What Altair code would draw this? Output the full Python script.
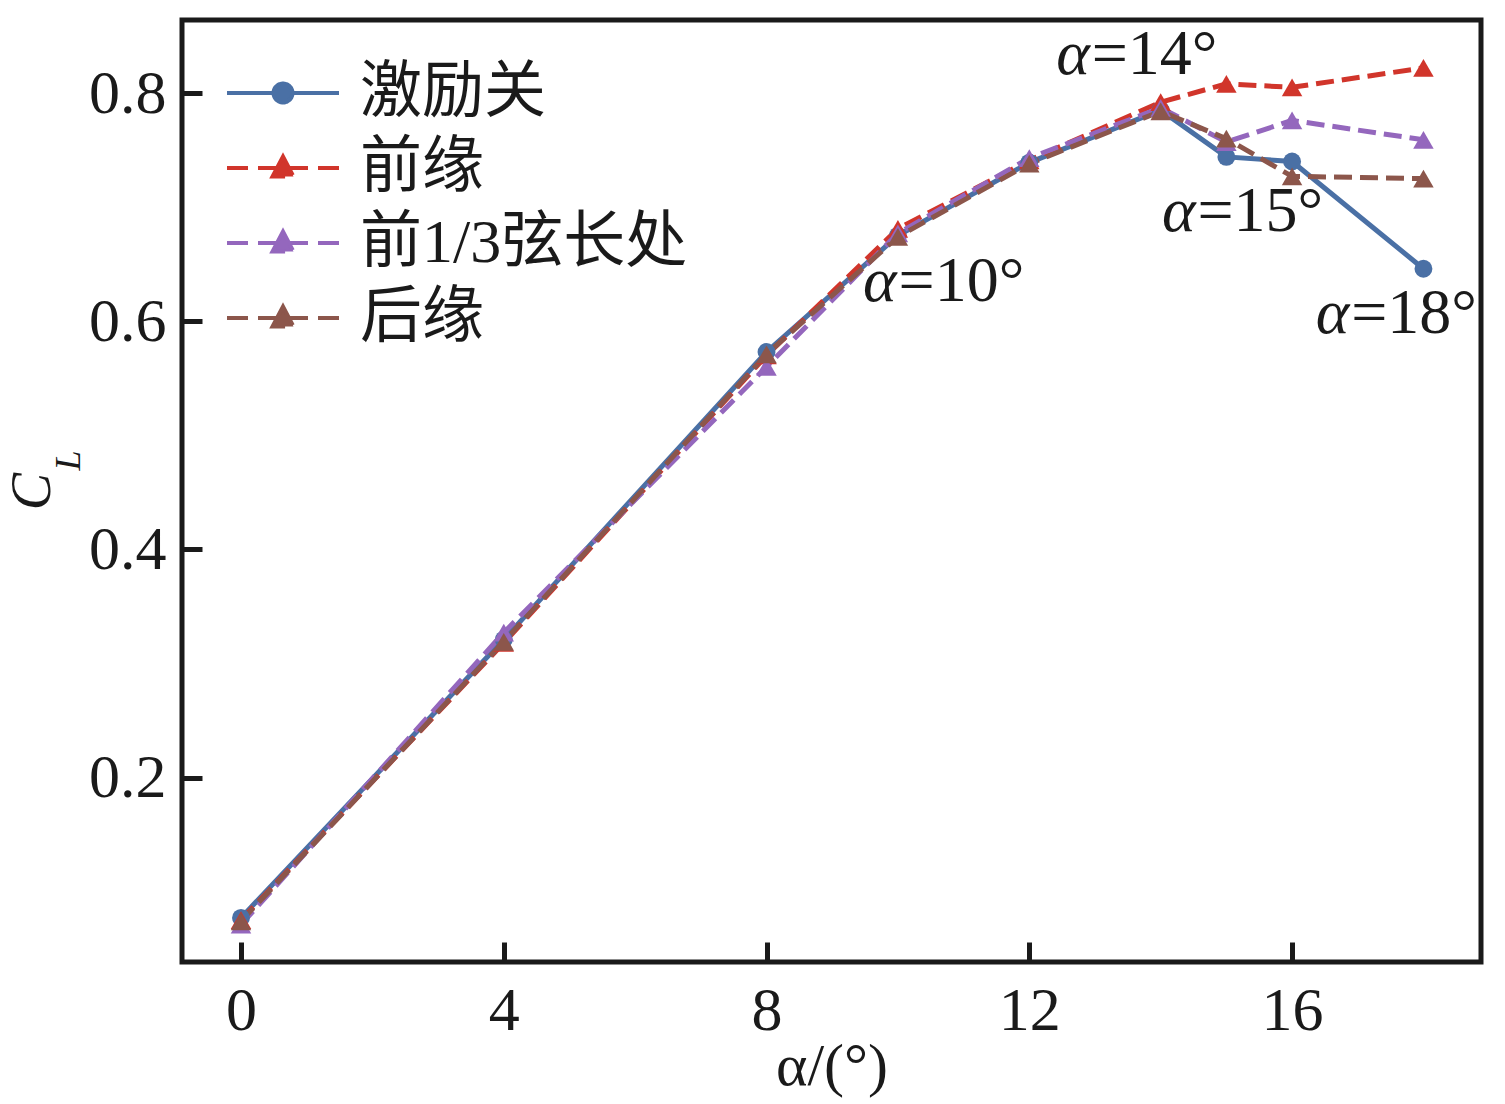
import altair as alt
import pandas as pd

# angle of attack (deg) and lift coefficient per actuator position
alpha = [0, 4, 8, 10, 12, 14, 15, 16, 18]
cl_off = [0.077, 0.321, 0.573, 0.675, 0.739, 0.785, 0.744, 0.740, 0.646]
cl_le = [0.075, 0.318, 0.570, 0.681, 0.741, 0.792, 0.808, 0.805, 0.822]
cl_third = [0.071, 0.327, 0.560, 0.677, 0.743, 0.787, 0.757, 0.776, 0.759]
cl_te = [0.074, 0.319, 0.571, 0.674, 0.738, 0.784, 0.760, 0.727, 0.725]

series = ['激励关', '前缘', '前1/3弦长处', '后缘']
colors = ['#4a70a5', '#d1352b', '#9467bd', '#8c564b']
legend_dashes = [[1, 0], [21, 10, 50, 10, 21], [21, 10, 50, 10, 21], [21, 10, 50, 10, 21]]
tri = 'M-5.6,0H5.6M0,-1.15L1.05,0.85L-1.05,0.85Z'
legend_shapes = ['M-5.6,0H5.6M-0.95,0A0.95,0.95 0 1,0 0.95,0A0.95,0.95 0 1,0 -0.95,0Z', tri, tri, tri]

x_ticks = [0, 4, 8, 12, 16]
y_ticks = [0.2, 0.4, 0.6, 0.8]

# annotations: "α" right of anchor, rest left of anchor
ann_x = [12.92, 14.53, 9.98, 16.87]
ann_y = [0.833, 0.696, 0.634, 0.606]
ann_rest = ['=14°', '=15°', '=10°', '=18°']

sub_x = [-2.62]
sub_y = [0.478]

FONT = 'Liberation Serif'
CJK = 'Liberation Serif, Noto Sans CJK SC'
INK = '#1a1a1a'

rows = []
for name, col, vals in zip(series, colors, [cl_off, cl_le, cl_third, cl_te]):
    for a, v in zip(alpha, vals):
        rows.append({'series': name, 'hex': col, 'alpha': a, 'cl': v})
df = pd.DataFrame(rows)

ann = pd.DataFrame({'x': ann_x, 'y': ann_y, 'rest': ann_rest, 'a': ['α'] * 4})
sub = pd.DataFrame({'x': sub_x, 'y': sub_y, 't': ['L']})

xs = alt.Scale(domain=[-0.898, 18.876], nice=False, zero=False)
ys = alt.Scale(domain=[0.0383, 0.864], nice=False, zero=False)

main_x = alt.Axis(values=x_ticks, orient='bottom', domain=False, ticks=False, grid=False,
                  labelFont=FONT, labelFontSize=62, labelColor=INK, labelPadding=18,
                  title='α/(°)', titleFont=FONT, titleFontSize=60, titleFontWeight='normal',
                  titleColor=INK, titlePadding=-4)
main_y = alt.Axis(values=y_ticks, orient='left', domain=False, ticks=False, grid=False,
                  format='.1f', labelFont=FONT, labelFontSize=62, labelColor=INK,
                  labelPadding=16, title='C', titleFont=FONT, titleFontSize=56,
                  titleFontStyle='italic', titleFontWeight='normal', titleColor=INK,
                  titlePadding=27)
# inward ticks: a second axis shifted into the plot
tick_x = alt.Axis(values=x_ticks, orient='bottom', offset=-20, tickSize=20, tickWidth=5,
                  tickColor=INK, labels=False, domain=False, grid=False, title=None)
tick_y = alt.Axis(values=y_ticks, orient='left', offset=-20, tickSize=20, tickWidth=5,
                  tickColor=INK, labels=False, domain=False, grid=False, title=None)

# colours straight from the data column, so these layers make no legend
color = alt.Color('hex:N', scale=None)
is_off = alt.datum.series == series[0]

solid = alt.Chart(df).transform_filter(is_off).mark_line(strokeWidth=5).encode(
    x=alt.X('alpha:Q', scale=xs, axis=main_x),
    y=alt.Y('cl:Q', scale=ys, axis=main_y),
    color=color,
)
dashed = alt.Chart(df).transform_filter(~is_off).mark_line(strokeWidth=5, strokeDash=[18, 8]).encode(
    x=alt.X('alpha:Q', scale=xs, axis=None),
    y=alt.Y('cl:Q', scale=ys, axis=None),
    color=color,
    detail='series:N',
)
circles = alt.Chart(df).transform_filter(is_off).mark_point(
    filled=True, opacity=1, shape='circle', size=320).encode(
    x=alt.X('alpha:Q', scale=xs, axis=tick_x),
    y=alt.Y('cl:Q', scale=ys, axis=tick_y),
    color=color,
)
triangles = alt.Chart(df).transform_filter(~is_off).mark_point(
    filled=True, opacity=1, shape='triangle-up', size=420).encode(
    x=alt.X('alpha:Q', scale=xs, axis=None),
    y=alt.Y('cl:Q', scale=ys, axis=None),
    color=color,
)

leg = alt.Legend(title=None, orient='none', legendX=70, legendY=42, padding=0,
                 labelFont=CJK, labelFontSize=62, labelColor=INK, labelOffset=46,
                 labelLimit=600, symbolSize=400, symbolStrokeWidth=4, symbolOpacity=1,
                 rowPadding=13)

# empty layer that only carries the legend (line + marker symbols)
legend_layer = alt.Chart(df).transform_filter(alt.datum.alpha < -100).mark_point(
    filled=True, opacity=1).encode(
    x=alt.X('alpha:Q', scale=xs, axis=None),
    y=alt.Y('cl:Q', scale=ys, axis=None),
    fill=alt.Fill('series:N', scale=alt.Scale(domain=series, range=colors), legend=leg),
    stroke=alt.Stroke('series:N', scale=alt.Scale(domain=series, range=colors), legend=leg),
    shape=alt.Shape('series:N', scale=alt.Scale(domain=series, range=legend_shapes), legend=leg),
    strokeDash=alt.StrokeDash('series:N', scale=alt.Scale(domain=series, range=legend_dashes), legend=leg),
)

ann_a = alt.Chart(ann).mark_text(font=FONT, fontSize=64, fontStyle='italic', align='right',
                                 baseline='middle', color=INK).encode(
    x=alt.X('x:Q', scale=xs, axis=None), y=alt.Y('y:Q', scale=ys, axis=None), text='a:N')
ann_r = alt.Chart(ann).mark_text(font=FONT, fontSize=64, align='left', dx=2,
                                 baseline='middle', color=INK).encode(
    x=alt.X('x:Q', scale=xs, axis=None), y=alt.Y('y:Q', scale=ys, axis=None), text='rest:N')
sub_t = alt.Chart(sub).mark_text(font=FONT, fontSize=36, fontStyle='italic', angle=270,
                                 align='center', baseline='middle', color=INK).encode(
    x=alt.X('x:Q', scale=xs, axis=None), y=alt.Y('y:Q', scale=ys, axis=None), text='t:N')

chart = alt.layer(solid, dashed, circles, triangles, legend_layer, ann_a, ann_r, sub_t).resolve_axis(
    x='independent', y='independent'
).properties(
    width=1299, height=942,
    autosize=alt.AutoSizeParams(type='none'),
    padding={'left': 174, 'top': 12, 'right': 16, 'bottom': 142},
).configure_view(
    stroke=INK, strokeWidth=5
)

chart.save("out.html", embed_options={"renderer": "svg", "actions": False})
